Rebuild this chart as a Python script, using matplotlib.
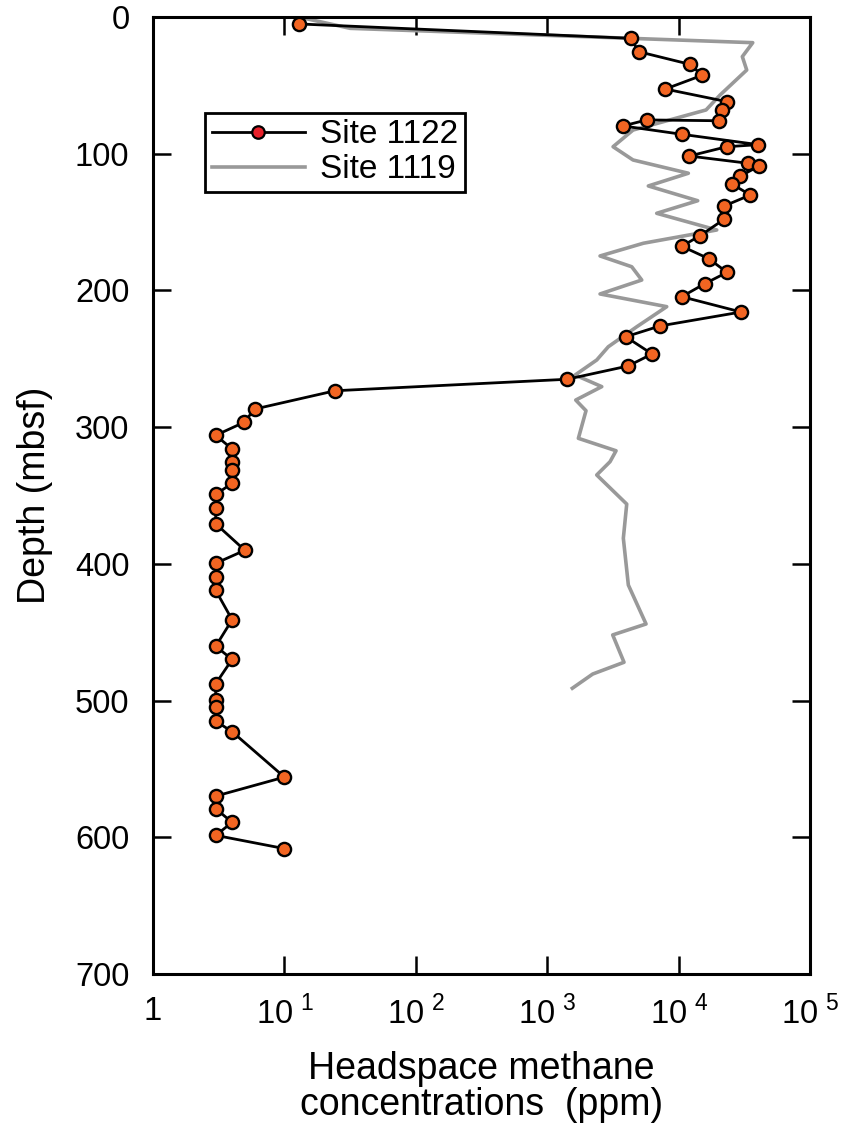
import matplotlib
matplotlib.use('Agg')
import matplotlib.pyplot as plt
from matplotlib.lines import Line2D

plt.rcParams['font.family'] = ['Liberation Sans', 'DejaVu Sans']
plt.rcParams['mathtext.fontset'] = 'custom'
plt.rcParams['mathtext.rm'] = 'Liberation Sans'

# Site 1122 headspace methane (ppm) vs depth (mbsf)
site1122_ppm = [12.9, 4320, 4970, 12140, 15150, 7920, 23490, 21280, 20180, 5715,
                3776, 10560, 40430, 23230, 12060, 33740, 40910, 29330, 25630, 35140,
                22170, 22170, 14550, 10560, 16950, 23350, 15800, 10560, 29850, 7215,
                3957, 6280, 4120, 1415, 24.3, 5.94, 4.93, 3, 4, 4,
                4, 4, 3, 3, 3, 5, 3, 3, 3, 4,
                3, 4, 3, 3, 3, 3, 4, 10, 3, 3,
                4, 3, 10]
site1122_depth = [5.1, 15.6, 25.4, 34.6, 42.6, 52.7, 62.0, 68.0, 75.9, 75.3,
                  79.7, 85.8, 93.4, 94.9, 101.7, 107.0, 109.0, 116.5, 122.4, 130.2,
                  138.3, 148.0, 160.0, 167.7, 176.8, 186.8, 195.1, 204.6, 215.8, 226.0,
                  233.9, 246.5, 255.3, 265.0, 273.4, 286.8, 296.5, 306.0, 316.0, 325.5,
                  331.4, 341.1, 349.2, 359.0, 370.7, 390.1, 399.6, 409.7, 419.4, 440.9,
                  460.3, 469.9, 487.7, 499.3, 505.0, 515.0, 522.8, 556.0, 569.9, 579.1,
                  589.1, 598.6, 608.3]

# Site 1119
site1119_ppm = [14.3, 31.6, 4270, 36640, 30530, 32970, 20660, 16170, 4498, 3170,
                4498, 11860, 5880, 13970, 6810, 19500, 5390, 2523, 4397, 5240,
                2523, 8117, 4800, 2917, 2381, 1629, 2600, 1648, 1973, 1726,
                3340, 3006, 2381, 4027, 3795, 4143, 5650, 3150, 3840, 2219,
                1553]
site1119_depth = [1.0, 8.3, 15.6, 18.8, 29.0, 38.8, 57.1, 68.0, 82.7, 94.9,
                  104.6, 114.3, 123.6, 134.4, 143.6, 155.8, 165.5, 174.8, 182.7, 192.4,
                  202.6, 211.9, 226.6, 241.2, 250.9, 261.9, 270.4, 280.2, 288.0, 308.2,
                  317.3, 325.3, 335.0, 356.3, 381.3, 415.5, 444.0, 452.0, 472.0, 480.6,
                  491.0]

xticks = [1, 10, 100, 1000, 10000, 100000]
xticklabels = ['1', r'10$^{\ 1}$', r'10$^{\ 2}$', r'10$^{\ 3}$', r'10$^{\ 4}$', r'10$^{\ 5}$']
yticks = [0, 100, 200, 300, 400, 500, 600, 700]

fig = plt.figure(figsize=(8.43, 11.32), dpi=100)
ax = fig.add_axes([0.1815, 0.1396, 0.7794, 0.8454])

ax.plot(site1119_ppm, site1119_depth, color='#999999', lw=2.6, zorder=2)
ax.plot(site1122_ppm, site1122_depth, color='black', lw=2.0, marker='o', ms=9.5,
        mfc='#f26522', mec='black', mew=1.7, zorder=3)

ax.set_xscale('log')
ax.set_xlim(1, 1e5)
ax.set_ylim(700, 0)
ax.set_xticks(xticks)
ax.set_xticklabels(xticklabels)
ax.set_yticks(yticks)
ax.minorticks_off()

ax.tick_params(axis='both', direction='in', length=13, width=1.8, labelsize=23.5,
               top=True, right=True)
ax.tick_params(axis='x', pad=16)
ax.tick_params(axis='y', pad=17)
for s in ax.spines.values():
    s.set_linewidth(2.2)

ax.set_ylabel('Depth (mbsf)', fontsize=27, labelpad=16)
ax.set_xlabel('Headspace methane\nconcentrations  (ppm)', fontsize=27, labelpad=14,
              linespacing=1.0)

handles = [Line2D([], [], color='black', lw=2.0, marker='o', ms=9, mfc='#e8202a',
                  mec='black', mew=1.6),
           Line2D([], [], color='#999999', lw=2.6)]
leg = ax.legend(handles, ['Site 1122', 'Site 1119'], loc='upper left',
                bbox_to_anchor=(0.079, 0.9), fontsize=24, fancybox=False,
                edgecolor='black', framealpha=1, handlelength=2.8,
                borderpad=0.2, labelspacing=0.12, handletextpad=0.45,
                borderaxespad=0)
leg.get_frame().set_linewidth(2)

fig.savefig('out.png', dpi=100)
